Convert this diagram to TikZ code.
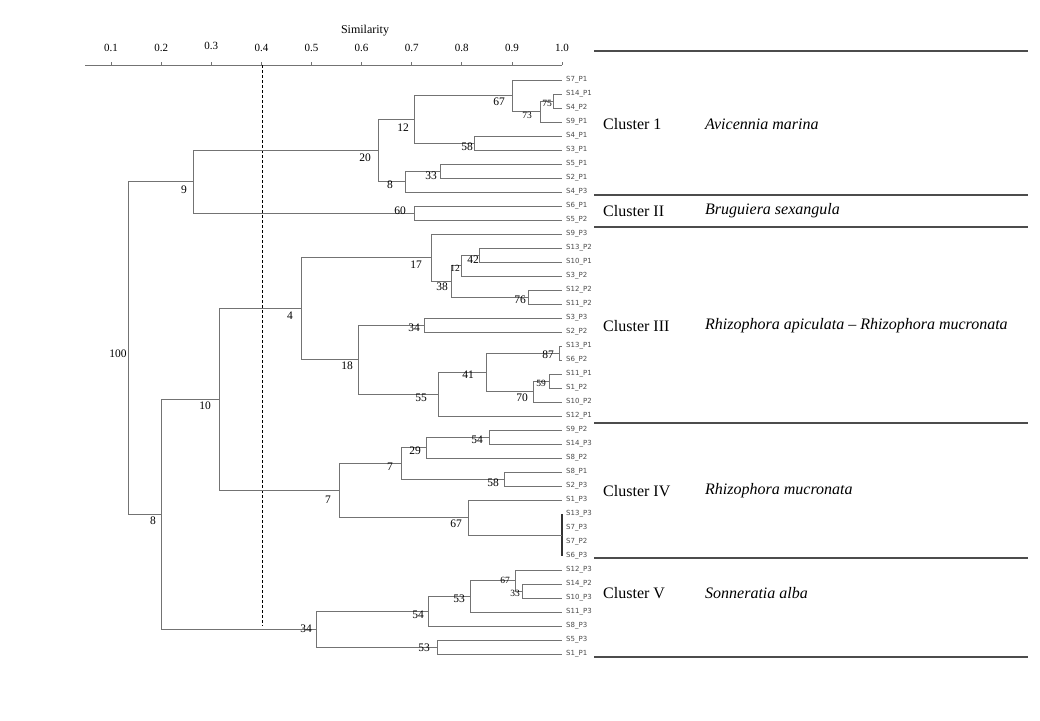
\documentclass[tikz,border=0pt]{standalone}
\usepackage{fontspec}
\setmainfont{Liberation Serif}
\newfontfamily\leaffont{DejaVu Sans}
\tikzstyle{branch}=[draw=black!55,line width=0.8pt]
\tikzstyle{axisline}=[draw=black!55,line width=0.8pt]
\tikzstyle{sepline}=[draw=black!70,line width=1.1pt]
\tikzstyle{leaf}=[anchor=west,inner xsep=4pt,inner ysep=0pt,text=black!70,font=\leaffont\fontsize{7}{8}\selectfont]
\tikzstyle{num}=[inner sep=0pt,font=\fontsize{11.5}{12}\selectfont]
\tikzstyle{smallnum}=[inner sep=0pt,font=\fontsize{9.5}{10}\selectfont]
\tikzstyle{ticklabel}=[inner sep=0pt,font=\fontsize{11}{12}\selectfont]
\tikzstyle{clus}=[anchor=west,inner sep=0pt,font=\fontsize{16}{18}\selectfont]
\newcommand\Merge[3]{
  \draw[branch] (#1) |- (#2);
  \draw[branch] (#1) |- (#3);
}
\begin{document}
\begin{tikzpicture}[x=1pt,y=-1pt]
  \useasboundingbox (0,0) rectangle (1040,720);
  % axis
  \node[inner sep=0pt,font=\fontsize{12}{13}\selectfont] (simtitle) at (365,31) {Similarity};
  \draw[axisline] (85,65) -- (562,65);
  \foreach \v/\t/\ty in {1/0.1/48,2/0.2/48,3/0.3/46,4/0.4/48,5/0.5/48,6/0.6/48,7/0.7/48,8/0.8/48,9/0.9/48,10/1.0/48}{
    \draw[axisline] ({61+50.1*\v},62) -- ({61+50.1*\v},65);
    \node[ticklabel] (tick\v) at ({61+50.1*\v},\ty) {\t};
  }
  \draw[black,line width=0.7pt,dash pattern=on 3pt off 2pt] (262,65) -- (262,626);
  % leaves
  \foreach \s/\p [count=\i from 0] in {7/1,14/1,4/2,9/1,4/1,3/1,5/1,2/1,4/3,6/1,5/2,
    9/3,13/2,10/1,3/2,12/2,11/2,3/3,2/2,13/1,6/2,11/1,1/2,10/2,12/1,
    9/2,14/3,8/2,8/1,2/3,1/3,13/3,7/3,7/2,6/3,
    12/3,14/2,10/3,11/3,8/3,5/3,1/1}
    \node[leaf] (S\s-P\p) at (562,{80+14*\i}) {S\s\_P\p};
  % cluster 1 and 2
  \coordinate (n75) at (553,101);
  \coordinate (n73) at (540,111.5);
  \coordinate (n67a) at (512,95.75);
  \coordinate (n58a) at (474,143);
  \coordinate (n12a) at (414,119.4);
  \coordinate (n33a) at (440,171);
  \coordinate (n8a) at (405,181.5);
  \coordinate (n20) at (378,150.4);
  \coordinate (n60) at (414,213);
  \coordinate (n9) at (193,181.7);
  \Merge{n75}{S14-P1.west}{S4-P2.west}
  \Merge{n73}{n75}{S9-P1.west}
  \Merge{n67a}{S7-P1.west}{n73}
  \Merge{n58a}{S4-P1.west}{S3-P1.west}
  \Merge{n12a}{n67a}{n58a}
  \Merge{n33a}{S5-P1.west}{S2-P1.west}
  \Merge{n8a}{n33a}{S4-P3.west}
  \Merge{n20}{n12a}{n8a}
  \Merge{n60}{S6-P1.west}{S5-P2.west}
  \Merge{n9}{n20}{n60}
  % cluster 3
  \coordinate (n42) at (479,255);
  \coordinate (n12b) at (461,265.5);
  \coordinate (n76) at (528,297);
  \coordinate (n38) at (451,281.25);
  \coordinate (n17) at (431,257.6);
  \coordinate (n34a) at (424,325);
  \coordinate (n87) at (559,353);
  \coordinate (n59) at (549,381);
  \coordinate (n70) at (533,391.5);
  \coordinate (n41) at (486,372.25);
  \coordinate (n55) at (438,394.1);
  \coordinate (n18) at (358,359.6);
  \coordinate (n4) at (301,308.6);
  \Merge{n42}{S13-P2.west}{S10-P1.west}
  \Merge{n12b}{n42}{S3-P2.west}
  \Merge{n76}{S12-P2.west}{S11-P2.west}
  \Merge{n38}{n12b}{n76}
  \Merge{n17}{S9-P3.west}{n38}
  \Merge{n34a}{S3-P3.west}{S2-P2.west}
  \Merge{n87}{S13-P1.west}{S6-P2.west}
  \Merge{n59}{S11-P1.west}{S1-P2.west}
  \Merge{n70}{n59}{S10-P2.west}
  \Merge{n41}{n87}{n70}
  \Merge{n55}{n41}{S12-P1.west}
  \Merge{n18}{n34a}{n55}
  \Merge{n4}{n17}{n18}
  % cluster 4
  \coordinate (n54a) at (489,437);
  \coordinate (n29) at (426,447.5);
  \coordinate (n58b) at (504,479);
  \coordinate (n7a) at (401,463.25);
  \coordinate (n0) at (562,535);
  \coordinate (n67b) at (468,517.5);
  \coordinate (n7b) at (339,490.4);
  \coordinate (n10) at (219,399.5);
  \Merge{n54a}{S9-P2.west}{S14-P3.west}
  \Merge{n29}{n54a}{S8-P2.west}
  \Merge{n58b}{S8-P1.west}{S2-P3.west}
  \Merge{n7a}{n29}{n58b}
  \draw[black!80,line width=1.4pt] (S13-P3.west) -- (S6-P3.west);
  \Merge{n67b}{S1-P3.west}{n0}
  \Merge{n7b}{n7a}{n67b}
  \Merge{n10}{n4}{n7b}
  % cluster 5
  \coordinate (n33b) at (522,591);
  \coordinate (n67c) at (515,580.5);
  \coordinate (n53a) at (470,596.25);
  \coordinate (n54b) at (428,611.1);
  \coordinate (n53b) at (437,647);
  \coordinate (n34b) at (316,629.1);
  \coordinate (n8b) at (161,514.3);
  \coordinate (n100) at (128,348);
  \Merge{n33b}{S14-P2.west}{S10-P3.west}
  \Merge{n67c}{S12-P3.west}{n33b}
  \Merge{n53a}{n67c}{S11-P3.west}
  \Merge{n54b}{n53a}{S8-P3.west}
  \Merge{n53b}{S5-P3.west}{S1-P1.west}
  \Merge{n34b}{n54b}{n53b}
  \Merge{n8b}{n10}{n34b}
  \Merge{n100}{n9}{n8b}
  % bootstrap values
  \node[smallnum] (b75) at (547,103) {75};
  \node[smallnum] (b73) at (527,115) {73};
  \node[num] (b67a) at (499,102) {67};
  \node[num] (b58a) at (467,147) {58};
  \node[num] (b12a) at (403,128) {12};
  \node[num] (b33a) at (431,176) {33};
  \node[num] (b8a) at (390,185) {8};
  \node[num] (b20) at (365,158) {20};
  \node[num] (b60) at (400,211) {60};
  \node[num] (b9) at (184,190) {9};
  \node[num] (b100) at (118,354) {100};
  \node[smallnum] (b12b) at (455,268) {12};
  \node[num] (b42) at (473,260) {42};
  \node[num] (b76) at (520,300) {76};
  \node[num] (b38) at (442,287) {38};
  \node[num] (b17) at (416,265) {17};
  \node[num] (b34a) at (414,328) {34};
  \node[num] (b87) at (548,355) {87};
  \node[smallnum] (b59) at (541,383) {59};
  \node[num] (b70) at (522,398) {70};
  \node[num] (b41) at (468,375) {41};
  \node[num] (b55) at (421,398) {55};
  \node[num] (b18) at (347,366) {18};
  \node[num] (b4) at (290,316) {4};
  \node[num] (b10) at (205,406) {10};
  \node[num] (b54a) at (477,440) {54};
  \node[num] (b29) at (415,451) {29};
  \node[num] (b58b) at (493,483) {58};
  \node[num] (b7a) at (390,467) {7};
  \node[num] (b67b) at (456,524) {67};
  \node[num] (b7b) at (328,500) {7};
  \node[smallnum] (b67c) at (505,580) {67};
  \node[smallnum] (b33b) at (515,593) {33};
  \node[num] (b53a) at (459,599) {53};
  \node[num] (b54b) at (418,615) {54};
  \node[num] (b53b) at (424,648) {53};
  \node[num] (b34b) at (306,629) {34};
  \node[num] (b8b) at (153,521) {8};
  % clusters
  \foreach \y in {51,195,227,423,558,657}
    \draw[sepline] (594,\y) -- (1028,\y);
  \node[clus] (c1) at (603,124) {Cluster 1};
  \node[clus] (c2) at (603,211) {Cluster II};
  \node[clus] (c3) at (603,326) {Cluster III};
  \node[clus] (c4) at (603,491) {Cluster IV};
  \node[clus] (c5) at (603,593) {Cluster V};
  \node[clus,font=\fontsize{16}{18}\selectfont\itshape] (sp1) at (705,124) {Avicennia marina};
  \node[clus,font=\fontsize{16}{18}\selectfont\itshape] (sp2) at (705,211) {Bruguiera sexangula};
  \node[clus,font=\fontsize{16}{18}\selectfont\itshape] (sp3) at (705,326) {Rhizophora apiculata -- Rhizophora mucronata};
  \node[clus,font=\fontsize{16}{18}\selectfont\itshape] (sp4) at (705,491) {Rhizophora mucronata};
  \node[clus,font=\fontsize{16}{18}\selectfont\itshape] (sp5) at (705,593) {Sonneratia alba};
\end{tikzpicture}
\end{document}
